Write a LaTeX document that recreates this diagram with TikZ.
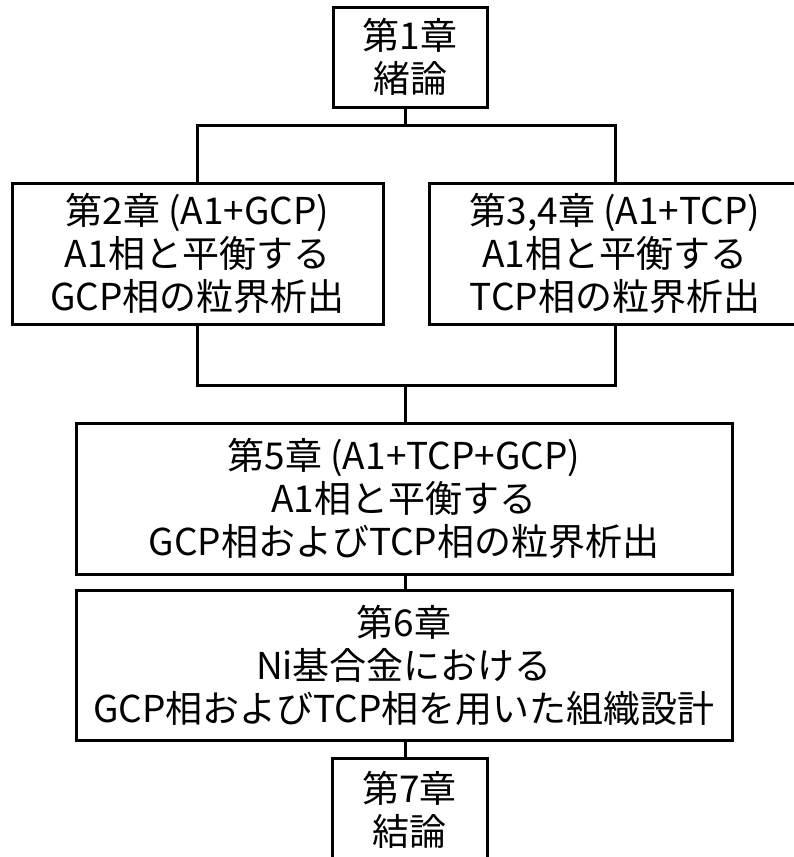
\documentclass[tikz,border=0pt]{standalone}
\usepackage{fontspec}
\setmainfont{Noto Sans CJK JP}
\tikzset{
  box/.style={draw, line width=3pt, line join=miter, rectangle, inner sep=0pt, align=center,
    font=\fontsize{37}{43}\selectfont},
  conn/.style={line width=3pt, line join=miter, line cap=rect}
}
\begin{document}
\begin{tikzpicture}[x=1pt,y=-1pt]
\useasboundingbox (0,0) rectangle (793,857);
\node[box, minimum width=154pt, minimum height=100pt] (b1) at (410,57) {第1章\\緒論};
\node[box, minimum width=371pt, minimum height=141pt] (b2) at (197.5,253.5) {第2章 (A1+GCP)\\A1相と平衡する\\GCP相の粒界析出};
\node[box, minimum width=372pt, minimum height=141pt] (b3) at (615,253.5) {第3,4章 (A1+TCP)\\A1相と平衡する\\TCP相の粒界析出};
\node[box, minimum width=656pt, minimum height=151pt] (b5) at (404,498.5) {第5章 (A1+TCP+GCP)\\A1相と平衡する\\GCP相およびTCP相の粒界析出};
\node[box, minimum width=656pt, minimum height=150pt] (b6) at (404,665) {第6章\\Ni基合金における\\GCP相およびTCP相を用いた組織設計};
\node[box, minimum width=155pt, minimum height=103pt] (b7) at (409.5,809.5) {第7章\\結論};
\coordinate (j1) at (405,125);
\coordinate (j2) at (405,385);
\draw[conn] (j1 |- b1.south) -- (j1);
\draw[conn] (b2.north) -- (b2.north |- j1) -- (b3.north |- j1) -- (b3.north);
\draw[conn] (b2.south) -- (b2.south |- j2) -- (b3.south |- j2) -- (b3.south);
\draw[conn] (j2) -- (j2 |- b5.north);
\draw[conn] (j2 |- b5.south) -- (j2 |- b6.north);
\draw[conn] (j2 |- b6.south) -- (j2 |- b7.north);
\end{tikzpicture}
\end{document}
